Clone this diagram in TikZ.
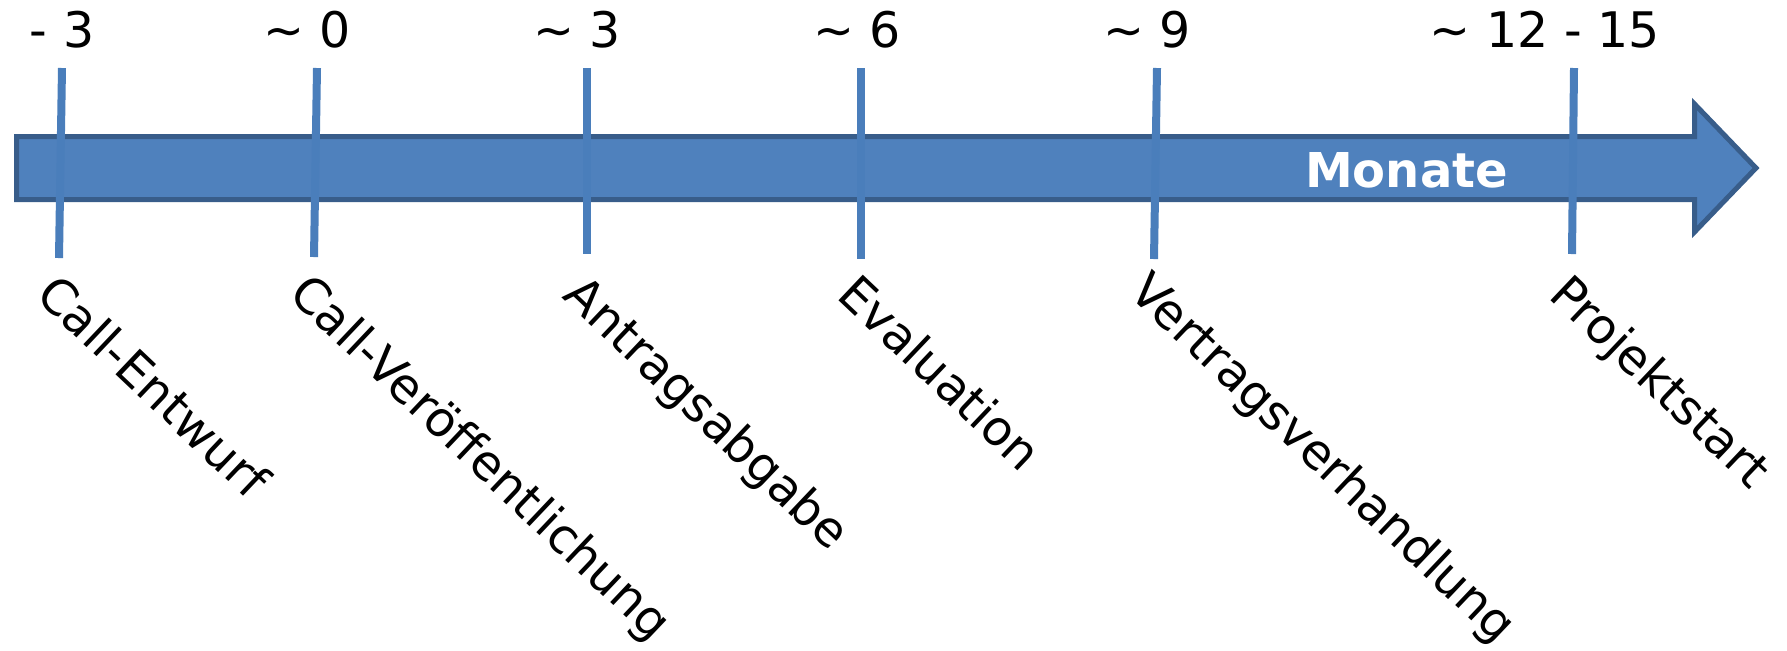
\documentclass[tikz,border=0pt]{standalone}
\usepackage{fontspec}
\setmainfont{DejaVu Sans}
\definecolor{barfill}{HTML}{4F81BD}
\definecolor{barline}{HTML}{385D8A}
\definecolor{tickcol}{HTML}{4A7EBB}
\tikzset{
  barstyle/.style={fill=barfill, draw=barline, line width=2.5pt, line join=miter},
  tickline/.style={draw=tickcol, line width=4pt},
  toplabel/.style={anchor=base, inner sep=0pt, font=\fontsize{24.5}{28}\selectfont},
  milestone/.style={anchor=base west, inner sep=0pt, rotate=-43.5, font=\fontsize{24.25}{28}\selectfont},
  monatelabel/.style={anchor=base, inner sep=0pt, text=white, font=\fontsize{24}{28}\selectfont\bfseries}
}
\begin{document}
\begin{tikzpicture}[x=0.5pt,y=-0.5pt]
\useasboundingbox (0,0) rectangle (1787,650);
% main arrow
\draw[barstyle] (16.5,136.5) -- (1694.5,136.5) -- (1694.5,104) -- (1756,168) -- (1694.5,232) -- (1694.5,199.5) -- (16.5,199.5) -- cycle;
\node[monatelabel] (monate) at (1406.5,187) {Monate};
% tick coordinates
\coordinate (t1a) at (62,68);   \coordinate (t1b) at (59,258);
\coordinate (t2a) at (317,68);  \coordinate (t2b) at (314,257);
\coordinate (t3a) at (587,68);  \coordinate (t3b) at (587,254);
\coordinate (t4a) at (861,68);  \coordinate (t4b) at (861,259);
\coordinate (t5a) at (1157,68); \coordinate (t5b) at (1154,259);
\coordinate (t6a) at (1574,68); \coordinate (t6b) at (1572,254);
\draw[tickline] (t1a) -- (t1b);
\draw[tickline] (t2a) -- (t2b);
\draw[tickline] (t3a) -- (t3b);
\draw[tickline] (t4a) -- (t4b);
\draw[tickline] (t5a) -- (t5b);
\draw[tickline] (t6a) -- (t6b);
% top labels
\node[toplabel] (m1) at (62,47) {- 3};
\node[toplabel] (m2) at (307,47) {\textasciitilde{} 0};
\node[toplabel] (m3) at (577,47) {\textasciitilde{} 3};
\node[toplabel] (m4) at (857,47) {\textasciitilde{} 6};
\node[toplabel] (m5) at (1147,47) {\textasciitilde{} 9};
\node[toplabel] (m6) at (1545,47) {\textasciitilde{} 12 - 15};
% milestone labels
\node[milestone] (l1) at (34,297) {Call-Entwurf};
\node[milestone] (l2) at (287,296) {Call-Veröffentlichung};
\node[milestone] (l3) at (561,297) {Antragsabgabe};
\node[milestone] (l4) at (835,297) {Evaluation};
\node[milestone] (l5) at (1127,294) {Vertragsverhandlung};
\node[milestone] (l6) at (1547,297) {Projektstart};
\end{tikzpicture}
\end{document}
